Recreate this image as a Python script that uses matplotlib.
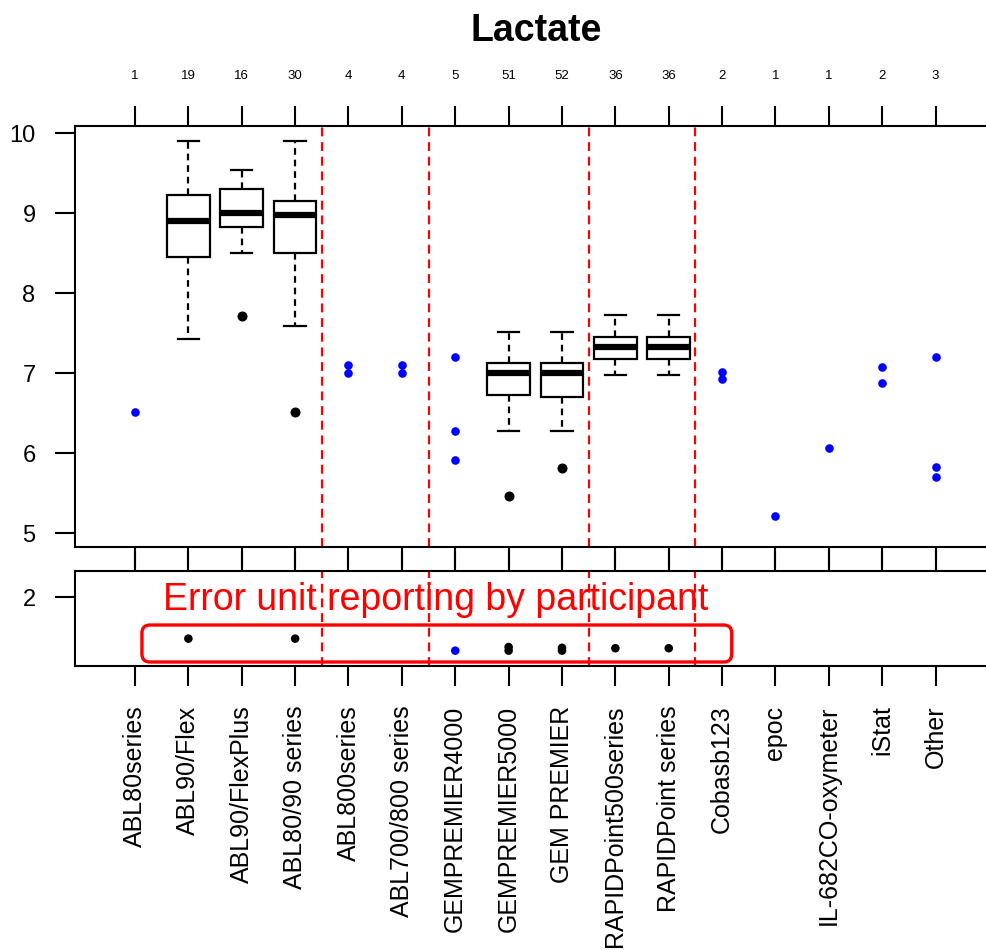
import matplotlib
matplotlib.use("Agg")
import matplotlib.pyplot as plt
from matplotlib.patches import FancyBboxPatch
from matplotlib.transforms import blended_transform_factory

plt.rcParams['font.family'] = ['Liberation Sans', 'DejaVu Sans']

# ---------------- data ----------------
categories = ["ABL80series", "ABL90/Flex", "ABL90/FlexPlus", "ABL80/90 series",
              "ABL800series", "ABL700/800 series", "GEMPREMIER4000", "GEMPREMIER5000",
              "GEM PREMIER", "RAPIDPoint500series", "RAPIDPoint series", "Cobasb123",
              "epoc", "IL-682CO-oxymeter", "iStat", "Other"]
counts = [1, 19, 16, 30, 4, 4, 5, 51, 52, 36, 36, 2, 1, 1, 2, 3]

box_cats = ["ABL90/Flex", "ABL90/FlexPlus", "ABL80/90 series", "GEMPREMIER5000",
            "GEM PREMIER", "RAPIDPoint500series", "RAPIDPoint series"]
box_whislo = [7.42, 8.50, 7.59, 6.27, 6.27, 6.98, 6.98]
box_q1 = [8.45, 8.82, 8.50, 6.72, 6.70, 7.17, 7.17]
box_med = [8.90, 9.00, 8.98, 7.00, 7.00, 7.32, 7.32]
box_q3 = [9.22, 9.30, 9.15, 7.13, 7.13, 7.45, 7.45]
box_whishi = [9.90, 9.54, 9.90, 7.51, 7.51, 7.73, 7.73]
box_outliers = [[], [7.71], [6.51], [5.46], [5.81], [], []]

point_cats = ["ABL80series", "ABL800series", "ABL800series", "ABL700/800 series",
              "ABL700/800 series", "GEMPREMIER4000", "GEMPREMIER4000", "GEMPREMIER4000",
              "Cobasb123", "Cobasb123", "epoc", "IL-682CO-oxymeter", "iStat", "iStat",
              "Other", "Other", "Other"]
point_vals = [6.51, 7.10, 7.00, 7.10, 7.00, 7.20, 6.27, 5.91, 7.01, 6.93, 5.21,
              6.06, 7.07, 6.88, 7.20, 5.82, 5.70]

err_cats = ["ABL90/Flex", "ABL80/90 series", "GEMPREMIER4000", "GEMPREMIER5000",
            "GEMPREMIER5000", "GEM PREMIER", "GEM PREMIER", "RAPIDPoint500series",
            "RAPIDPoint series"]
err_vals = [1.48, 1.48, 1.33, 1.375, 1.33, 1.365, 1.33, 1.36, 1.36]

group_breaks = [4.5, 6.5, 9.5, 11.5]
main_yticks = [5, 6, 7, 8, 9, 10]
err_yticks = [2]
err_text = "Error unit reporting by participant"
title = "Lactate"

# ---------------- figure ----------------
W, H = 986, 950
fig = plt.figure(figsize=(W / 100, H / 100), dpi=100)
ax = fig.add_axes([75 / W, (H - 547) / H, 914 / W, 421 / H])
ax2 = fig.add_axes([75 / W, (H - 666) / H, 914 / W, 95 / H])

pos = {c: i + 1 for i, c in enumerate(categories)}
xs = list(range(1, len(categories) + 1))

# boxplots
stats = []
for i, c in enumerate(box_cats):
    stats.append(dict(med=box_med[i], q1=box_q1[i], q3=box_q3[i],
                      whislo=box_whislo[i], whishi=box_whishi[i],
                      fliers=box_outliers[i], label=c))
ax.bxp(stats, positions=[pos[c] for c in box_cats], widths=0.8, capwidths=0.4,
       showfliers=True, patch_artist=True,
       boxprops=dict(facecolor='white', edgecolor='black', linewidth=1.6),
       medianprops=dict(color='black', linewidth=4.5, solid_capstyle='butt'),
       whiskerprops=dict(color='black', linewidth=1.6, linestyle=(0, (3, 2.2))),
       capprops=dict(color='black', linewidth=1.6),
       flierprops=dict(marker='o', markerfacecolor='black', markeredgecolor='black',
                       markersize=6.2))

ax.plot([pos[c] for c in point_cats], point_vals, 'o', color='#0000ff',
        markersize=6.2, markeredgewidth=0, zorder=3)

err_colors = ['black' if c in box_cats else '#0000ff' for c in err_cats]
ax2.scatter([pos[c] for c in err_cats], err_vals, c=err_colors, s=38,
            linewidths=0, zorder=3)

for a in (ax, ax2):
    for b in group_breaks:
        a.axvline(b, color='#ff0000', linewidth=1.6, linestyle=(0, (4, 2.6)), zorder=1)
    a.set_xlim(-0.124, 17.0)
    for s in a.spines.values():
        s.set_linewidth(1.5)
    a.set_xticks(xs)
    a.tick_params(axis='y', direction='out', length=14.4, width=1.5,
                  labelsize=17, pad=14)

ax.set_ylim(4.825, 10.0875)
ax.set_yticks(main_yticks)
ax.tick_params(axis='x', direction='out', top=True, bottom=True, length=14.4,
               width=1.5, labelbottom=False, labeltop=False)

ax2.set_ylim(1.138, 2.325)
ax2.set_yticks(err_yticks)
ax2.tick_params(axis='x', direction='out', top=True, bottom=True, length=14.4,
                width=1.5, labeltop=False, labelbottom=True, labelsize=18, pad=14)
ax2.set_xticklabels(categories, rotation=90, va='top', ha='center')

# count labels above main panel
tr = blended_transform_factory(ax.transData, ax.transAxes)
for x, n in zip(xs, counts):
    ax.text(x, 1.1195, str(n), transform=tr, ha='center', va='center', fontsize=9.5,
            clip_on=False)

# red annotation
box = FancyBboxPatch((1.13, 1.188), 12.18 - 1.13, 1.650 - 1.188,
                     boxstyle="round,pad=0,rounding_size=0.15", mutation_aspect=0.667,
                     facecolor='none', edgecolor='#ff0000', linewidth=2.4, zorder=4,
                     clip_on=False)
ax2.add_patch(box)
ax2.text(6.64, 1.84, err_text, color='#ff0000', fontsize=27, ha='center',
         va='baseline', zorder=5)

fig.text(536 / W, 1 - 31 / H, title, ha='center', va='center', fontsize=27,
         fontweight='bold')

fig.savefig("out.png", dpi=100, facecolor='white')
